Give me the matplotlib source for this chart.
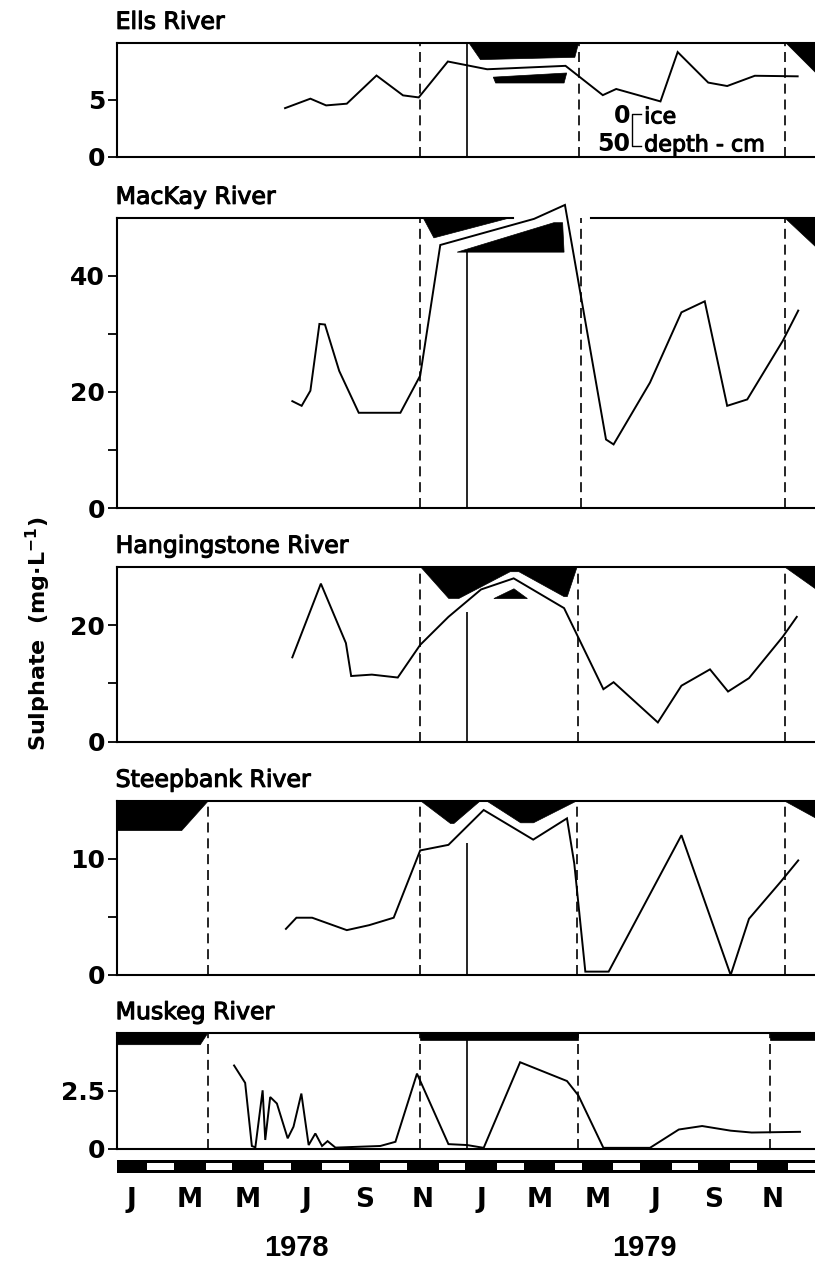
import matplotlib
matplotlib.use("Agg")
import matplotlib.pyplot as plt
import matplotlib.transforms as mtransforms
import matplotlib.patheffects as pe
from matplotlib.patches import Polygon, Rectangle

W, H, DPI = 815, 1267, 100
plt.rcParams["font.family"] = ["DejaVu Sans"]
plt.rcParams["mathtext.default"] = "regular"

# ---------------------------------------------------------------------------
# Data: time in months since 1 Jan 1978, sulphate in mg/L
# ---------------------------------------------------------------------------
ELLS_MONTH = [5.77, 6.64, 7.18, 7.89, 8.91, 9.82, 10.36, 11.36, 12.71, 15.4,
              16.68, 17.14, 18.66, 19.25, 20.3, 20.95, 21.9, 23.37]
ELLS_SO4 = [4.26, 5.09, 4.5, 4.65, 7.12, 5.38, 5.2, 8.35, 7.67, 7.97,
            5.4, 5.94, 4.85, 9.18, 6.5, 6.2, 7.1, 7.05]

MACKAY_MONTH = [6.02, 6.34, 6.64, 6.95, 7.14, 7.63, 8.3, 9.73, 10.41, 11.1,
                14.32, 15.38, 16.79, 17.05, 18.3, 19.38, 20.18, 20.95, 21.64,
                22.86, 23.39]
MACKAY_SO4 = [18.4, 17.6, 20.2, 31.7, 31.6, 23.6, 16.4, 16.4, 22.8, 45.3,
              49.8, 52.2, 11.8, 10.95, 21.6, 33.7, 35.6, 17.6, 18.7, 28.8, 34.0]

HANG_MONTH = [6.02, 7.0, 7.86, 8.04, 8.75, 9.64, 10.41, 11.38, 12.5, 13.62,
              15.35, 16.7, 17.05, 18.57, 19.38, 20.36, 20.98, 21.7, 22.86, 23.34]
HANG_SO4 = [14.46, 27.1, 16.9, 11.26, 11.5, 11.0, 16.6, 21.4, 26.1, 28.0,
            22.9, 9.0, 10.2, 3.3, 9.6, 12.4, 8.6, 10.9, 18.0, 21.4]

STEEP_MONTH = [5.8, 6.16, 6.7, 7.89, 8.66, 9.5, 10.41, 11.38, 12.59, 14.29,
               15.45, 15.7, 16.08, 16.88, 19.38, 21.07, 21.7, 22.77, 23.39]
STEEP_SO4 = [3.97, 4.93, 4.93, 3.86, 4.29, 4.93, 10.72, 11.2, 14.2, 11.65,
             13.48, 9.6, 0.29, 0.29, 12.03, 0.0, 4.84, 7.97, 9.86]

MUSKEG_MONTH = [4.02, 4.4, 4.63, 4.75, 5.0, 5.09, 5.26, 5.49, 5.86, 6.06,
                6.33, 6.58, 6.81, 7.04, 7.23, 7.5, 9.04, 9.56, 10.3, 11.38,
                12.02, 12.59, 13.84, 15.45, 15.84, 16.7, 18.3, 19.29, 20.09,
                21.07, 21.79, 23.45]
MUSKEG_SO4 = [3.6, 2.85, 0.13, 0.07, 2.53, 0.39, 2.24, 1.96, 0.46, 0.96,
              2.39, 0.17, 0.67, 0.13, 0.34, 0.06, 0.13, 0.31, 3.25, 0.21,
              0.17, 0.05, 3.74, 2.93, 2.31, 0.05, 0.05, 0.84, 0.99, 0.79,
              0.71, 0.74]

# Ice cover outlines: (month, depth below surface in cm)
ELLS_ICE = [
    [(12.08, 0), (12.48, 26), (15.72, 22.5), (15.85, 0)],
    [(12.92, 53), (15.44, 46.6), (15.35, 62), (13.0, 62)],
    [(22.97, 0), (24.0, 0), (24.0, 46)],
]
MACKAY_ICE = [
    [(10.51, 0), (10.88, 31), (13.51, 0)],
    [(11.68, 53), (15.0, 7.7), (15.3, 7.7), (15.35, 53)],
    [(22.95, 0), (24.0, 0), (24.0, 45)],
]
HANG_ICE = [
    [(10.42, 0), (11.39, 48.8), (11.74, 48.8), (13.5, 7.7), (13.8, 7.7),
     (15.35, 46), (15.46, 46), (15.8, 0)],
    [(12.94, 49), (13.63, 34), (14.09, 49)],
    [(22.95, 0), (24.0, 0), (24.0, 34)],
]
STEEP_ICE = [
    [(0.0, 0), (3.14, 0), (2.22, 46), (0.0, 46)],
    [(10.42, 0), (11.45, 35), (11.57, 35), (12.48, 0)],
    [(12.68, 0), (13.86, 34), (14.3, 34), (15.8, 0)],
    [(22.95, 0), (24.0, 0), (24.0, 27)],
]
MUSKEG_ICE = [
    [(0.0, 0), (3.12, 0), (2.86, 18), (0.0, 18)],
    [(10.41, 0), (15.84, 0), (15.84, 10), (10.41, 10)],
    [(22.41, 0), (24.0, 0), (24.0, 11), (22.41, 11)],
]

# Freeze-up / break-up dates (dashed)
ELLS_ICE_DATES = [10.42, 15.85, 22.95]
MACKAY_ICE_DATES = [10.42, 15.92, 22.93]
HANG_ICE_DATES = [10.42, 15.83, 22.93]
STEEP_ICE_DATES = [3.12, 10.42, 15.8, 22.93]
MUSKEG_ICE_DATES = [3.14, 10.41, 15.84, 22.41]

RIVERS = ["Ells River", "MacKay River", "Hangingstone River",
          "Steepbank River", "Muskeg River"]
MONTH_LETTERS = ["J", "M", "M", "J", "S", "N"] * 2
YEARS = ["1978", "1979"]

ICE_PX_PER_CM = 0.65

# ---------------------------------------------------------------------------
fig = plt.figure(figsize=(W / DPI, H / DPI), dpi=DPI)
LEFT_PX, RIGHT_PX = 117, 816
HEAVY = [pe.withStroke(linewidth=0.8, foreground="black")]


def add_panel(top_px, bottom_px):
    return fig.add_axes([LEFT_PX / W, 1 - bottom_px / H,
                         (RIGHT_PX - LEFT_PX) / W, (bottom_px - top_px) / H])


panels = [
    dict(box=(42.7, 156.7), month=ELLS_MONTH, so4=ELLS_SO4, ymax=10,
         major=[0, 5], minor=[], labels=["0", "5"], ice=ELLS_ICE,
         dates=ELLS_ICE_DATES, year_top=10),
    dict(box=(217.7, 508), month=MACKAY_MONTH, so4=MACKAY_SO4, ymax=50,
         major=[0, 20, 40], minor=[10, 30], labels=["0", "20", "40"],
         ice=MACKAY_ICE, dates=MACKAY_ICE_DATES, year_top=44.3,
         top_gap=(13.6, 16.27)),
    dict(box=(566.7, 741.7), month=HANG_MONTH, so4=HANG_SO4, ymax=30,
         major=[0, 20], minor=[10], labels=["0", "20"], ice=HANG_ICE,
         dates=HANG_ICE_DATES, year_top=22.3),
    dict(box=(800.7, 975), month=STEEP_MONTH, so4=STEEP_SO4, ymax=15,
         major=[0, 10], minor=[5], labels=["0", "10"], ice=STEEP_ICE,
         dates=STEEP_ICE_DATES, year_top=11.4),
    dict(box=(1033, 1149), month=MUSKEG_MONTH, so4=MUSKEG_SO4, ymax=5,
         major=[0, 2.5], minor=[], labels=["0", "2.5"], ice=MUSKEG_ICE,
         dates=MUSKEG_ICE_DATES, year_top=5),
]

LW = 1.4
axes = []
for name, p in zip(RIVERS, panels):
    ax = add_panel(*p["box"])
    axes.append(ax)
    ymax = p["ymax"]
    ax.set_xlim(0, 24)
    ax.set_ylim(0, ymax)
    ax.spines["right"].set_visible(False)
    for s in ("left", "bottom", "top"):
        ax.spines[s].set_linewidth(1.5)
    ax.set_xticks([])
    ax.set_yticks(p["major"])
    ax.set_yticklabels(p["labels"], fontsize=18, fontweight="bold")
    ax.set_yticks(p["minor"], minor=True)
    ax.tick_params(axis="y", which="both", direction="out", length=6.5,
                   width=1.3, pad=2)

    # ice cover hanging from the surface
    h_px = ax.get_position().height * H
    per_px = ymax / h_px
    for poly in p["ice"]:
        pts = [(m, ymax - d * ICE_PX_PER_CM * per_px) for m, d in poly]
        ax.add_patch(Polygon(pts, closed=True, facecolor="black",
                             edgecolor="black", lw=0.5, zorder=2))

    for d in p["dates"]:
        ax.axvline(d, color="black", lw=1.2, ls=(0, (6, 3.5)), zorder=1)
    ax.vlines(12.0, 0, p["year_top"], color="black", lw=1.2, zorder=1)

    ax.plot(p["month"], p["so4"], color="black", lw=LW, zorder=4,
            clip_on=False, solid_joinstyle="miter")

    if "top_gap" in p:
        ax.spines["top"].set_visible(False)
        g0, g1 = p["top_gap"]
        trans = mtransforms.blended_transform_factory(ax.transData, ax.transAxes)
        ax.plot([0, g0], [1, 1], color="black", lw=1.5, transform=trans,
                clip_on=False, zorder=3)
        ax.plot([g1, 24], [1, 1], color="black", lw=1.5, transform=trans,
                clip_on=False, zorder=3)

    ax.annotate(name, xy=(0, 1), xycoords="axes fraction", xytext=(-1, 10),
                textcoords="offset points", ha="left", va="baseline",
                fontsize=17, path_effects=HEAVY)

# legend for the ice depth scale inside the Ells panel
ax0 = axes[0]
h_px0 = ax0.get_position().height * H
per_px0 = 10 / h_px0
b_top = 3.75
b_bot = b_top - 50 * ICE_PX_PER_CM * per_px0
bx = 17.68
ax0.plot([bx + 0.3, bx, bx, bx + 0.3], [b_top, b_top, b_bot, b_bot],
         color="black", lw=1.0, zorder=4)
ax0.text(bx - 0.05, b_top - 0.15, "0", ha="right", va="center",
         fontsize=17, fontweight="bold")
ax0.text(bx - 0.05, b_bot + 0.2, "50", ha="right", va="center",
         fontsize=17, fontweight="bold")
ax0.text(bx + 0.42, b_top - 0.3, "ice", ha="left", va="center", fontsize=16,
         path_effects=HEAVY)
ax0.text(bx + 0.42, b_bot + 0.1, "depth - cm", ha="left", va="center",
         fontsize=16, path_effects=HEAVY)

# month strip
axm = add_panel(1160, 1173.3)
axm.set_xlim(0, 24)
axm.set_ylim(0, 1)
axm.axis("off")
axm.add_patch(Rectangle((0, 0), 24, 1, facecolor="black", edgecolor="none"))
for i in range(1, 24, 2):
    axm.add_patch(Rectangle((i + 0.04, 0.22), 0.92, 0.56, facecolor="white",
                            edgecolor="none"))
for i, letter in enumerate(MONTH_LETTERS):
    axm.annotate(letter, xy=(2 * i + 0.5, 0), xycoords=("data", "axes fraction"),
                 xytext=(0, -19), textcoords="offset points", ha="center",
                 va="center", fontsize=19, fontweight="bold")
for year, mid in zip(YEARS, [6.15, 18.1]):
    axm.annotate(year, xy=(mid, 0), xycoords=("data", "axes fraction"),
                 xytext=(0, -54), textcoords="offset points", ha="center",
                 va="center", fontsize=21, fontweight="bold",
                 family="Liberation Sans")

fig.text(38 / W, 1 - 634 / H, "Sulphate  (mg·L$^{-1}$)", rotation=90,
         ha="center", va="center", fontsize=16, fontweight="bold")

fig.savefig("out.png", dpi=DPI)
